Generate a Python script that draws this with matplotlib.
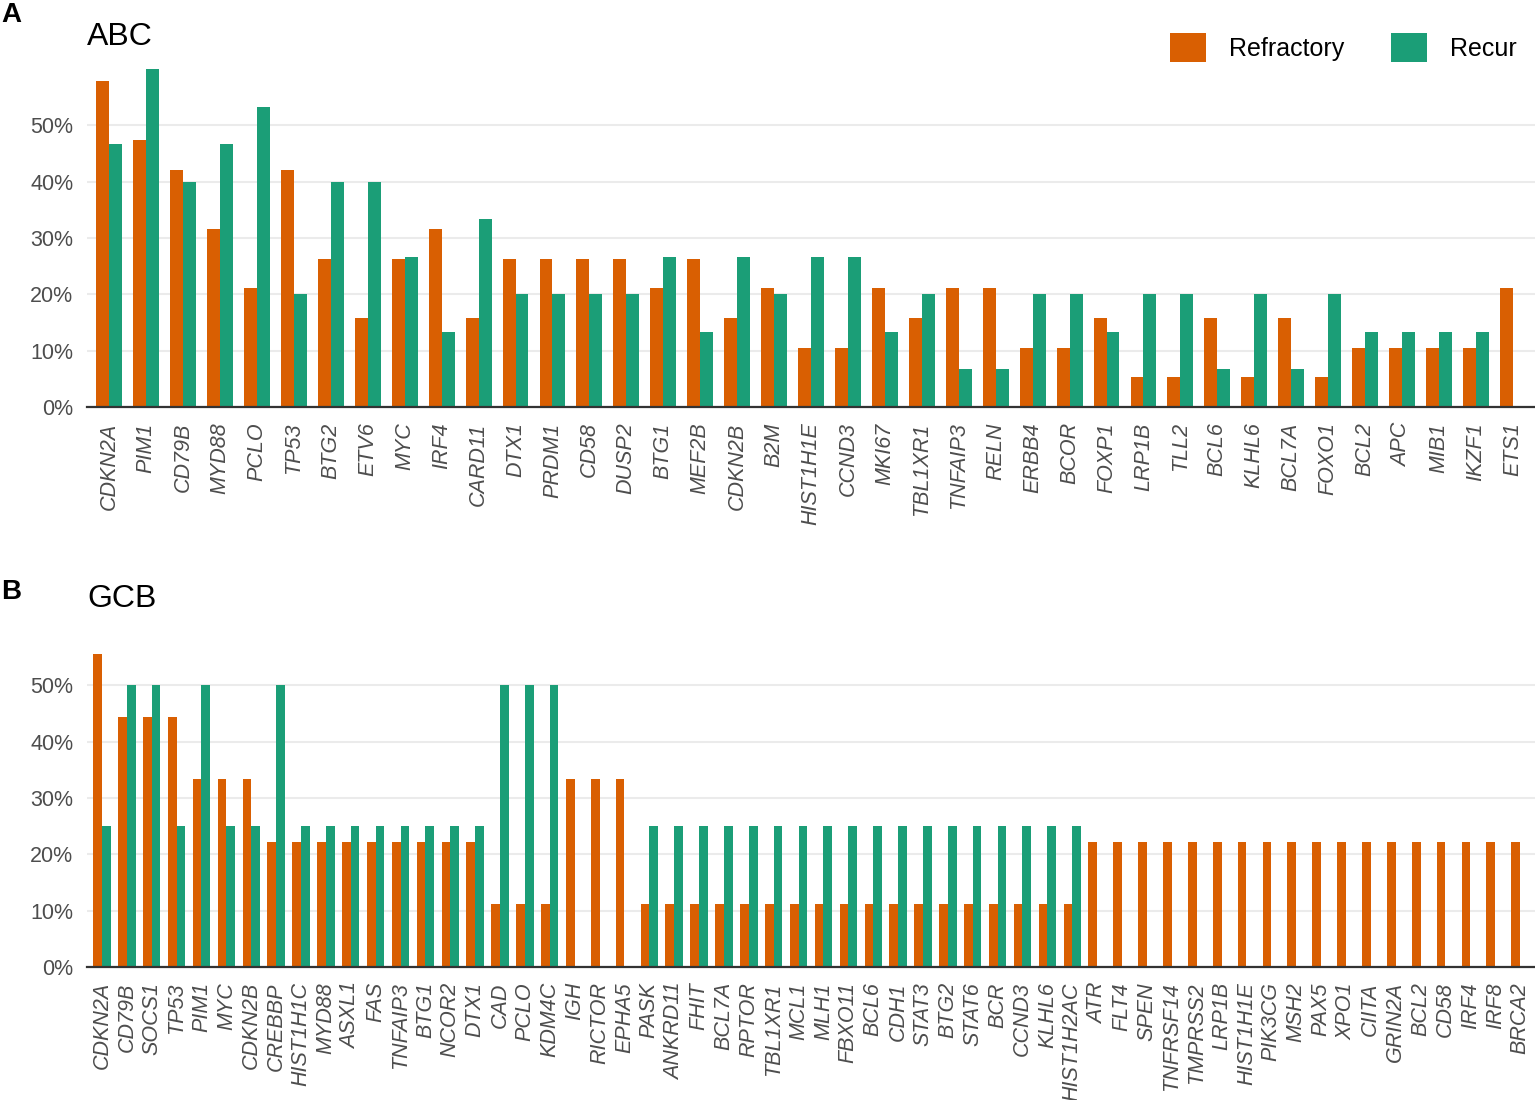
import matplotlib
matplotlib.use('Agg')
import matplotlib.pyplot as plt
import numpy as np

plt.rcParams['font.family'] = ['Liberation Sans', 'DejaVu Sans']

# ABC data (% of patients)
abc_genes = ['CDKN2A', 'PIM1', 'CD79B', 'MYD88', 'PCLO', 'TP53', 'BTG2', 'ETV6', 'MYC', 'IRF4',
             'CARD11', 'DTX1', 'PRDM1', 'CD58', 'DUSP2', 'BTG1', 'MEF2B', 'CDKN2B', 'B2M', 'HIST1H1E',
             'CCND3', 'MKI67', 'TBL1XR1', 'TNFAIP3', 'RELN', 'ERBB4', 'BCOR', 'FOXP1', 'LRP1B', 'TLL2',
             'BCL6', 'KLHL6', 'BCL7A', 'FOXO1', 'BCL2', 'APC', 'MIB1', 'IKZF1', 'ETS1']
abc_refractory = [57.9, 47.4, 42.1, 31.6, 21.1, 42.1, 26.3, 15.8, 26.3, 31.6,
                  15.8, 26.3, 26.3, 26.3, 26.3, 21.1, 26.3, 15.8, 21.1, 10.5,
                  10.5, 21.1, 15.8, 21.1, 21.1, 10.5, 10.5, 15.8, 5.3, 5.3,
                  15.8, 5.3, 15.8, 5.3, 10.5, 10.5, 10.5, 10.5, 21.1]
abc_recur = [46.7, 60.0, 40.0, 46.7, 53.3, 20.0, 40.0, 40.0, 26.7, 13.3,
             33.3, 20.0, 20.0, 20.0, 20.0, 26.7, 13.3, 26.7, 20.0, 26.7,
             26.7, 13.3, 20.0, 6.7, 6.7, 20.0, 20.0, 13.3, 20.0, 20.0,
             6.7, 20.0, 6.7, 20.0, 13.3, 13.3, 13.3, 13.3, 0.0]

# GCB data (% of patients)
gcb_genes = ['CDKN2A', 'CD79B', 'SOCS1', 'TP53', 'PIM1', 'MYC', 'CDKN2B', 'CREBBP', 'HIST1H1C', 'MYD88',
             'ASXL1', 'FAS', 'TNFAIP3', 'BTG1', 'NCOR2', 'DTX1', 'CAD', 'PCLO', 'KDM4C', 'IGH',
             'RICTOR', 'EPHA5', 'PASK', 'ANKRD11', 'FHIT', 'BCL7A', 'RPTOR', 'TBL1XR1', 'MCL1', 'MLH1',
             'FBXO11', 'BCL6', 'CDH1', 'STAT3', 'BTG2', 'STAT6', 'BCR', 'CCND3', 'KLHL6', 'HIST1H2AC',
             'ATR', 'FLT4', 'SPEN', 'TNFRSF14', 'TMPRSS2', 'LRP1B', 'HIST1H1E', 'PIK3CG', 'MSH2', 'PAX5',
             'XPO1', 'CIITA', 'GRIN2A', 'BCL2', 'CD58', 'IRF4', 'IRF8', 'BRCA2']
gcb_refractory = [55.6, 44.4, 44.4, 44.4, 33.3, 33.3, 33.3, 22.2, 22.2, 22.2,
                  22.2, 22.2, 22.2, 22.2, 22.2, 22.2, 11.1, 11.1, 11.1, 33.3,
                  33.3, 33.3, 11.1, 11.1, 11.1, 11.1, 11.1, 11.1, 11.1, 11.1,
                  11.1, 11.1, 11.1, 11.1, 11.1, 11.1, 11.1, 11.1, 11.1, 11.1,
                  22.2, 22.2, 22.2, 22.2, 22.2, 22.2, 22.2, 22.2, 22.2, 22.2,
                  22.2, 22.2, 22.2, 22.2, 22.2, 22.2, 22.2, 22.2]
gcb_recur = [25.0, 50.0, 50.0, 25.0, 50.0, 25.0, 25.0, 50.0, 25.0, 25.0,
             25.0, 25.0, 25.0, 25.0, 25.0, 25.0, 50.0, 50.0, 50.0, 0.0,
             0.0, 0.0, 25.0, 25.0, 25.0, 25.0, 25.0, 25.0, 25.0, 25.0,
             25.0, 25.0, 25.0, 25.0, 25.0, 25.0, 25.0, 25.0, 25.0, 25.0,
             0.0, 0.0, 0.0, 0.0, 0.0, 0.0, 0.0, 0.0, 0.0, 0.0,
             0.0, 0.0, 0.0, 0.0, 0.0, 0.0, 0.0, 0.0]

orange = '#D95F02'
green = '#1B9E77'
bar_w = 0.35


def draw_panel(ax, genes, refr, recur, title, title_pad):
    x = np.arange(len(genes))
    b1 = ax.bar(x - bar_w / 2, refr, width=bar_w, color=orange, label='Refractory')
    b2 = ax.bar(x + bar_w / 2, recur, width=bar_w, color=green, label='Recur')
    ax.set_xlim(-0.6, len(genes) - 0.4)
    ax.set_ylim(0, max(max(refr), max(recur)) * 1.05)
    ax.set_yticks([0, 10, 20, 30, 40, 50])
    ax.set_yticklabels(['0%', '10%', '20%', '30%', '40%', '50%'])
    ax.set_xticks(x)
    ax.set_xticklabels(genes, rotation=90, ha='right', va='center',
                       rotation_mode='anchor', fontstyle='italic')
    ax.tick_params(axis='both', length=0, labelsize=15.5, labelcolor='#4D4D4D')
    ax.tick_params(axis='x', pad=11)
    ax.tick_params(axis='y', pad=10)
    ax.grid(axis='y', color='#EBEBEB', linewidth=1.5)
    ax.set_axisbelow(True)
    for s in ['top', 'right', 'left']:
        ax.spines[s].set_visible(False)
    ax.spines['bottom'].set_color('#333333')
    ax.spines['bottom'].set_linewidth(1.6)
    ax.set_title(title, loc='left', fontsize=23, pad=title_pad, x=0.0)
    return b1, b2


fig = plt.figure(figsize=(15.35, 11), dpi=100)

ax1 = fig.add_axes([0.0567, 0.63, 0.9433, 0.3227])
b1, b2 = draw_panel(ax1, abc_genes, abc_refractory, abc_recur, 'ABC', 3)

ax2 = fig.add_axes([0.0567, 0.121, 0.9433, 0.299])
draw_panel(ax2, gcb_genes, gcb_refractory, gcb_recur, 'GCB', 22)

fig.legend(handles=[b1, b2], labels=['Refractory', 'Recur'], ncol=2,
           loc='upper right', bbox_to_anchor=(1.003, 0.9905), frameon=False,
           fontsize=18, handlelength=1.44, handleheight=1.44,
           handletextpad=0.92, columnspacing=1.88)

fig.text(0.001, 0.986, 'A', fontsize=20, fontweight='bold', va='center', ha='left')
fig.text(0.001, 0.462, 'B', fontsize=20, fontweight='bold', va='center', ha='left')

fig.savefig('out.png', dpi=100)
